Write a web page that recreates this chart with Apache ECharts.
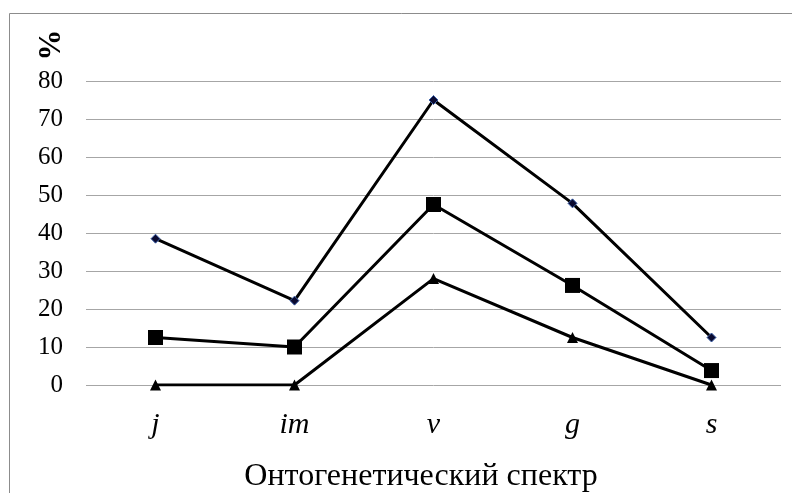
<!DOCTYPE html>
<html><head><meta charset="utf-8">
<script src="https://cdn.jsdelivr.net/npm/echarts@6/dist/echarts.min.js"></script>
<style>html,body{margin:0;padding:0;background:#fff}#c{width:792px;height:493px}</style>
</head><body><div id="c"></div>
<script>
var categories = ['j', 'im', 'v', 'g', 's'];
var seriesA = [38.5, 22.2, 75, 47.8, 12.5];
var seriesB = [12.5, 10, 47.5, 26.2, 3.8];
var seriesC = [0, 0, 28, 12.5, 0];
var yTicks = [0, 10, 20, 30, 40, 50, 60, 70, 80];
var yName = '%';
var xName = 'Онтогенетический спектр';

var chart = echarts.init(document.getElementById('c'), null, {renderer: 'canvas'});
var font = '"Liberation Serif", "Times New Roman", serif';
chart.setOption({
  animation: false,
  backgroundColor: '#fff',
  grid: {left: 86, right: 11, top: 81, bottom: 108, containLabel: false, outerBoundsMode: 'none'},
  graphic: [
    {type: 'rect', shape: {x: 9.5, y: 13.5, width: 800, height: 500}, style: {fill: 'none', stroke: '#8c8c8c', lineWidth: 1}, silent: true},
    {type: 'text', x: 52, y: 45, rotation: Math.PI / 2,
     style: {text: yName, font: 'bold 31px ' + font, fill: '#000', align: 'center', verticalAlign: 'middle'}},
    {type: 'text', x: 421, y: 477,
     style: {text: xName, font: '32px ' + font, fill: '#000', align: 'center', verticalAlign: 'middle'}}
  ],
  xAxis: {
    type: 'category', data: categories, boundaryGap: true,
    axisLine: {show: false}, axisTick: {show: false},
    axisLabel: {fontFamily: font, fontStyle: 'italic', fontSize: 30, color: '#000', margin: 25}
  },
  yAxis: {
    type: 'value', min: yTicks[0], max: yTicks[yTicks.length - 1], interval: 10,
    axisLine: {show: false}, axisTick: {show: false},
    axisLabel: {fontFamily: font, fontSize: 25, color: '#000', margin: 23},
    splitLine: {show: true, lineStyle: {color: '#a6a6a6', width: 1}}
  },
  series: [
    {type: 'line', data: seriesA, symbol: 'diamond', symbolSize: 9,
     lineStyle: {color: '#000', width: 3}, itemStyle: {color: '#0a0a30', borderColor: '#3a5fa8', borderWidth: 1}, z: 3},
    {type: 'line', data: seriesB, symbol: 'rect', symbolSize: 15,
     lineStyle: {color: '#000', width: 3}, itemStyle: {color: '#000'}, z: 3},
    {type: 'line', data: seriesC, symbol: 'triangle', symbolSize: 11,
     lineStyle: {color: '#000', width: 3}, itemStyle: {color: '#000'}, z: 3}
  ]
});
</script></body></html>
